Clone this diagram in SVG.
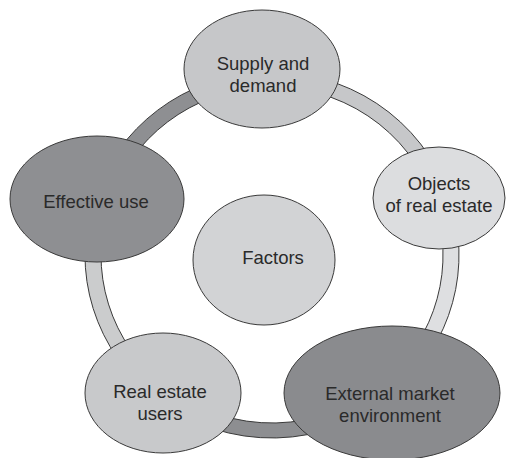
<svg xmlns="http://www.w3.org/2000/svg" width="506" height="458" viewBox="0 0 506 458">
<style>
.seg{stroke:#3a3a3a;stroke-width:1}
.node{stroke:#3a3a3a;stroke-width:1}
text{font-family:"Liberation Sans",Arial,sans-serif;font-size:18.5px;fill:#2a2a2a;text-anchor:middle}
</style>
<rect width="506" height="458" fill="#ffffff"/>
<g id="connectors">
<path class="seg" fill="#c6c7c9" d="M 262.2 72.3 A 187 183 0 0 1 449.0 196.0 L 433.9 200.9 A 171 168 0 0 0 263.1 87.2 Z"/>
<path class="seg" fill="#dedfe1" d="M 449.0 196.0 A 187 183 0 0 1 394.7 393.1 L 384.2 381.8 A 171 168 0 0 0 433.9 200.9 Z"/>
<path class="seg" fill="#8d8e91" d="M 394.7 393.1 A 187 183 0 0 1 156.1 398.6 L 166.0 386.8 A 171 168 0 0 0 384.2 381.8 Z"/>
<path class="seg" fill="#cbcccd" d="M 156.1 398.6 A 187 183 0 0 1 93.8 199.4 L 109.1 203.9 A 171 168 0 0 0 166.0 386.8 Z"/>
<path class="seg" fill="#8e8f92" d="M 93.8 199.4 A 187 183 0 0 1 262.2 72.3 L 263.1 87.2 A 171 168 0 0 0 109.1 203.9 Z"/>
</g>
<g id="supply">
<ellipse class="node" cx="262" cy="69" rx="78" ry="59" fill="#c6c7c9"/>
<text x="263" y="69.5">Supply and</text>
<text x="263" y="91.5">demand</text>
</g>
<g id="effective">
<ellipse class="node" cx="97" cy="199" rx="87" ry="63" fill="#8e8f92"/>
<text x="96" y="207.5">Effective use</text>
</g>
<g id="objects">
<ellipse class="node" cx="439" cy="198" rx="66" ry="51" fill="#dcdddf"/>
<text x="439" y="189.5">Objects</text>
<text x="439" y="211.5">of real estate</text>
</g>
<g id="factors">
<ellipse class="node" cx="264" cy="260" rx="71" ry="65" fill="#d2d3d5"/>
<text x="273" y="263.5">Factors</text>
</g>
<g id="users">
<ellipse class="node" cx="163" cy="393" rx="78" ry="60" fill="#c8c9cb"/>
<text x="160" y="398">Real estate</text>
<text x="160" y="420">users</text>
</g>
<g id="external">
<ellipse class="node" cx="392" cy="393" rx="108" ry="67" fill="#8a8b8e"/>
<text x="390" y="399.5">External market</text>
<text x="390" y="421.5">environment</text>
</g>
</svg>
